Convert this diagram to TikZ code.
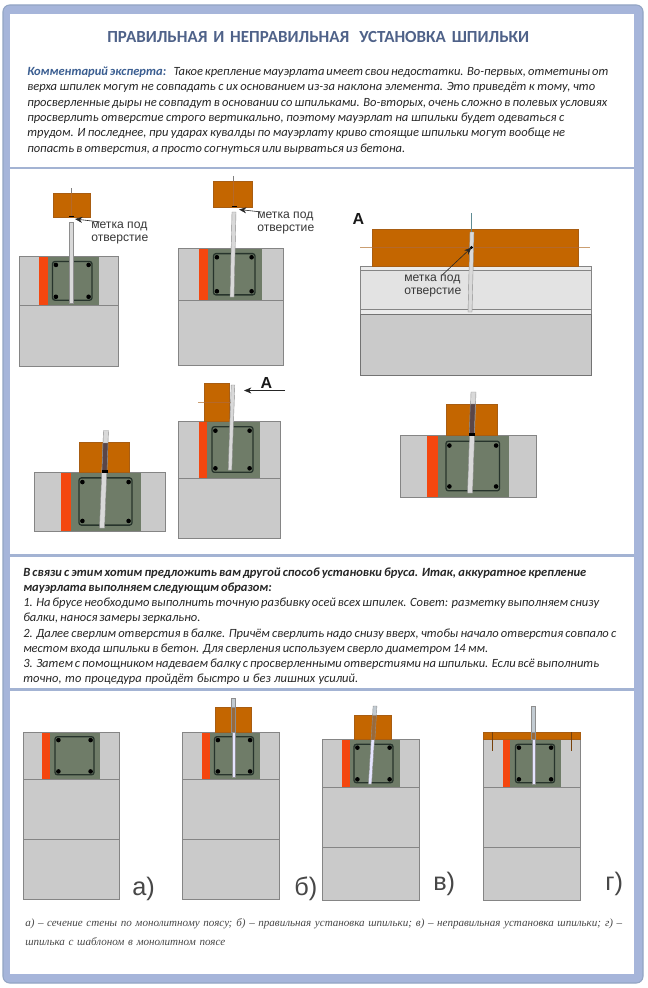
\documentclass[tikz,border=0pt]{standalone}
\usepackage{fontspec}
\setmainfont{Carlito}
\newfontfamily\labfont{Liberation Sans}
\newfontfamily\capfont{Liberation Serif}
\usetikzlibrary{arrows.meta}
\definecolor{bandblue}{HTML}{A6B5DA}
\definecolor{rimblue}{HTML}{93A5C4}
\definecolor{sepblue}{HTML}{A3B3D3}
\definecolor{titleblue}{HTML}{4F6289}
\definecolor{commentblue}{HTML}{3B5E91}
\definecolor{bodyink}{HTML}{262626}
\definecolor{wallgray}{HTML}{CACACA}
\definecolor{edgegray}{HTML}{858585}
\definecolor{brick}{HTML}{F4470F}
\definecolor{concrete}{HTML}{6F7C68}
\definecolor{rebar}{HTML}{27342C}
\definecolor{timber}{HTML}{C46600}
\definecolor{timberedge}{HTML}{A85D12}
\definecolor{timberaxis}{HTML}{B5692A}
\definecolor{studfill}{HTML}{D9D9D9}
\definecolor{studedge}{HTML}{8E8E8E}
\definecolor{studblue}{HTML}{C2CBD2}
\definecolor{studdark}{HTML}{5A4648}
\definecolor{studin}{HTML}{9A6A3A}
\definecolor{axisteal}{HTML}{5F8C94}
\tikzset{
  wallpart/.style={fill=wallgray,draw=edgegray,line width=.5pt},
  brickpart/.style={fill=brick},
  corepart/.style={fill=concrete},
  stirrup/.style={draw=rebar,line width=1pt,rounded corners=1.8pt},
  beampart/.style={fill=timber,draw=timberedge,line width=.4pt},
  axisline/.style={draw=#1,line width=.3pt},
  arr/.style={-{Stealth[length=5.5pt,width=4.5pt]},line width=.45pt,draw=black!85},
  tagtext/.style={font=\labfont\fontsize{9.1}{9.8}\selectfont,text=black!78,inner sep=0pt,align=left},
  bigA/.style={font=\labfont\bfseries\fontsize{12}{12}\selectfont,inner sep=0pt,text=black!90},
  letter/.style={font=\labfont\fontsize{19}{19}\selectfont,inner sep=0pt,text=black!72},
  linetext/.style={inner sep=0pt,anchor=base west,text=bodyink,font=\itshape\fontsize{9.4}{10}\selectfont},
  captext/.style={inner sep=0pt,anchor=base west,text=black!72,font=\capfont\itshape\fontsize{8.3}{10}\selectfont},
}
\newcommand{\wsec}[9]{%
  \pgfmathsetmacro{\hh}{#4-#3}%
  \pgfmathsetmacro{\stT}{#3+.1*\hh}\pgfmathsetmacro{\stB}{#4-.1*\hh}%
  \pgfmathsetmacro{\dT}{#3+.17*\hh}\pgfmathsetmacro{\dB}{#4-.17*\hh}%
  \pgfmathsetmacro{\dL}{#8+3.4}\pgfmathsetmacro{\dR}{#9-3.4}%
  \path[wallpart] (#1,#3) rectangle (#2,#4);
  \path[brickpart] (#5,#3) rectangle (#6,#4);
  \path[corepart] (#6,#3) rectangle (#7,#4);
  \draw[edgegray,line width=.4pt] (#5,#3) -- (#7,#3);
  \draw[edgegray,line width=.4pt] (#5,#4) -- (#7,#4);
  \path[stirrup] (#8,\stT) rectangle (#9,\stB);
  \fill[black] (\dL,\dT) circle (2.3) (\dR,\dT) circle (2.3) (\dL,\dB) circle (2.3) (\dR,\dB) circle (2.3);
}
\newcommand{\lowerpart}[4]{\path[wallpart] (#1,#3) rectangle (#2,#4);}
\newcommand{\rod}[6]{%
  \pgfmathsetmacro{\aL}{#1-#5}\pgfmathsetmacro{\aR}{#1+#5}%
  \pgfmathsetmacro{\bL}{#3-#5}\pgfmathsetmacro{\bR}{#3+#5}%
  \filldraw[fill=#6,draw=studedge,line width=.3pt] (\aL,#2) -- (\aR,#2) -- (\bR,#4) -- (\bL,#4) -- cycle;
}
\newcommand{\tline}[5]{\node[linetext] (#1) at (#2,#3) {\makebox[0.75\dimexpr #4pt\relax][s]{#5}};}
\begin{document}
\begin{tikzpicture}[x=.75pt,y=-.75pt]
\useasboundingbox (0,0) rectangle (647,988);
\fill[white] (0,0) rectangle (647,988);
% frame
\filldraw[fill=bandblue,draw=rimblue,line width=.8pt,rounded corners=5pt] (3,5) rectangle (643,983);
\fill[white] (10,14.5) rectangle (633.5,974);
\foreach \yy in {168,555.5,689.5}{\draw[sepblue,line width=1.6pt] (10,\yy) -- (633.5,\yy);}
% title
\node[inner sep=0pt,anchor=base west,text=titleblue,font=\bfseries\fontsize{12.7}{13}\selectfont] (title) at (107,42.5) {\makebox[0.75\dimexpr 422pt\relax][s]{ПРАВИЛЬНАЯ И НЕПРАВИЛЬНАЯ\hspace{3pt} УСТАНОВКА ШПИЛЬКИ}};
% first text
\tline{a1}{27}{76}{579}{{\bfseries\color{commentblue}Комментарий эксперта:}\hspace{3pt} Такое крепление мауэрлата имеет свои недостатки. Во-первых, отметины от}
\tline{a2}{27}{91}{568}{верха шпилек могут не совпадать с их основанием из-за наклона элемента. Это приведёт к тому, что}
\tline{a3}{27}{107}{580}{просверленные дыры не совпадут в основании со шпильками. Во-вторых, очень сложно в полевых условиях}
\tline{a4}{27}{122}{537}{просверлить отверстие строго вертикально, поэтому мауэрлат на шпильки будет одеваться с}
\tline{a5}{27}{137}{538}{трудом. И последнее, при ударах кувалды по мауэрлату криво стоящие шпильки могут вообще не}
\tline{a6}{27}{152}{378}{попасть в отверстия, а просто согнуться или вырваться из бетона.}
% figure 1
\lowerpart{19}{118}{305}{366}
\wsec{19}{118}{256.7}{305}{39}{47.5}{98.5}{52.5}{92}
\rod{71.5}{222}{71.5}{303}{1.9}{studfill}
\path[beampart] (53,193) rectangle (90,217.5);
\draw[axisline=black!50] (71.5,188) -- (71.5,193);
\draw[axisline=timberaxis] (71.5,193) -- (71.5,217);
\draw[black,line width=1pt] (69,216.7) -- (74,216.7);
\coordinate (mk1) at (75,219);
\node[tagtext,anchor=north west] (m1) at (91,222) {метка под\\отверстие};
\draw[arr] (m1.150) -- (mk1);
% figure 2
\lowerpart{178.5}{283}{300}{365.5}
\wsec{178.5}{283}{248.5}{300}{199}{207.5}{261.5}{213.5}{255}
\rod{234}{212}{232}{297}{2}{studfill}
\path[beampart] (213.5,181) rectangle (252.5,207);
\draw[axisline=black!50] (233,176) -- (233,181);
\draw[axisline=timberaxis] (233,181) -- (233,207);
\draw[black,line width=1pt] (232,206.4) -- (237,206.4);
\coordinate (mk2) at (239,209.5);
\node[tagtext,anchor=north west] (m2) at (257,212) {метка под\\отверстие};
\draw[arr] (m2.155) -- (mk2);
% figure 3
\node[bigA,anchor=center] (lA) at (358.5,218.5) {А};
\path[fill=white!92!black,draw=edgegray,line width=.5pt] (360,266) rectangle (591,314.5);
\path[fill=white!89!black,draw=edgegray,line width=.5pt] (360,270) rectangle (591,309.5);
\path[fill=wallgray,draw=black!55,line width=.7pt] (360,314.5) rectangle (591,375);
\path[beampart] (372,229.5) rectangle (578.5,266);
\draw[axisline=timberedge!60!white] (360,247.5) -- (372,247.5);
\draw[axisline=timberedge!60!white] (578.5,247.5) -- (590,247.5);
\draw[axisline=timberaxis] (372,247.5) -- (578.5,247.5);
\draw[axisline=axisteal] (471.5,213) -- (471.5,232);
\rod{472}{232}{470}{312}{2}{studfill}
\coordinate (mk3) at (471.5,247.5);
\fill[black] (mk3) circle (1.6);
\node[tagtext,anchor=north west] (m3) at (404,275) {метка под\\отверстие};
\draw[arr] (m3.50) -- (mk3);
% figure 4
\wsec{34}{165.5}{472}{531}{60.5}{71}{141}{79}{132}
\path[beampart] (79,442.5) rectangle (129.5,472);
\rod{106}{430.5}{102}{528}{2.5}{studfill}
\rod{105.5}{443}{104.5}{471}{2.5}{studdark}
\fill[black] (102,470) rectangle (108,472.5);
% figure 5
\lowerpart{178.5}{280}{478}{538.5}
\wsec{178.5}{280}{421}{478}{199}{206.5}{259.5}{212}{253}
\path[beampart] (204,383) rectangle (229,421);
\draw[axisline=timberedge!60!white] (198,402) -- (204,402);
\draw[axisline=timberaxis] (204,402) -- (232,402);
\rod{233}{385}{230}{470}{1.8}{studfill}
\node[bigA,anchor=center] (lA2) at (266.5,383) {А};
\coordinate (aE) at (244,390.5);
\coordinate (aS) at (285,390.5);
\draw[arr] (aS) -- (aE);
% figure 6
\wsec{400.5}{536}{435}{497}{427}{438}{509}{446}{499.5}
\path[beampart] (446,404) rectangle (497,435);
\rod{473.5}{392}{470}{493}{2.5}{studfill}
\rod{472.8}{404}{471.8}{434}{2.5}{studdark}
\fill[black] (469,433) rectangle (475,436);
% second text
\tline{b1}{23}{576}{563}{{\bfseries В связи с этим хотим предложить вам другой способ установки бруса. Итак, аккуратное крепление}}
\tline{b2}{23}{591}{245}{{\bfseries мауэрлата выполняем следующим образом:}}
\tline{b3}{23}{606}{576}{1. На брусе необходимо выполнить точную разбивку осей всех шпилек. Совет: разметку выполняем снизу}
\tline{b4}{23}{621}{175}{балки, нанося замеры зеркально.}
\tline{b5}{23}{637}{593}{2. Далее сверлим отверстия в балке. Причём сверлить надо снизу вверх, чтобы начало отверстия совпало с}
\tline{b6}{23}{652}{465}{местом входа шпильки в бетон. Для сверления используем сверло диаметром 14 мм.}
\tline{b7}{23}{667}{576}{3. Затем с помощником надеваем балку с просверленными отверстиями на шпильки. Если всё выполнить}
\tline{b8}{23}{682}{335}{точно, то процедура пройдёт быстро и без лишних усилий.}
% figure а
\lowerpart{23.5}{119.5}{779.5}{839.5}
\lowerpart{23.5}{119.5}{839.5}{899}
\wsec{23.5}{119.5}{732}{779.5}{42}{50}{100}{55}{94}
\node[letter,anchor=base west] (la) at (132,895) {а)};
% figure б
\lowerpart{182.5}{279}{779.5}{839.5}
\lowerpart{182.5}{279}{839.5}{899}
\wsec{182.5}{279}{732}{779.5}{201.5}{209.5}{259.5}{214.5}{253.5}
\rod{233.5}{732}{233.5}{777}{1.5}{white!90!blue}
\path[beampart] (215,707.5) rectangle (251,732);
\rod{233.5}{698}{233.5}{707.5}{1.9}{studblue}
\rod{233.5}{707.5}{233.5}{732}{1.9}{studin}
\node[letter,anchor=base west] (lb) at (294,895) {б)};
% figure в
\lowerpart{322}{419}{787.5}{847.5}
\lowerpart{322}{419}{847.5}{900}
\wsec{322}{419}{739.5}{787.5}{341.5}{349.5}{399.5}{354}{393}
\rod{372.8}{739.5}{370}{784}{1.6}{white!90!blue}
\path[beampart] (354.5,715.5) rectangle (391.5,739.5);
\rod{375}{706}{374.5}{715.5}{1.9}{studblue}
\rod{374.5}{715.5}{373}{739.5}{1.9}{studin}
\node[letter,anchor=base west] (lv) at (433,890) {в)};
% figure г
\lowerpart{483.5}{580}{787.5}{847.5}
\lowerpart{483.5}{580}{847.5}{900}
\wsec{483.5}{580}{739.5}{787.5}{502.5}{510}{561}{515.5}{554.5}
\rod{533.5}{739.5}{533.5}{784}{1.6}{white!90!blue}
\path[beampart] (483,732) rectangle (580,739.5);
\rod{533.5}{706}{533.5}{732}{1.9}{studblue}
\rod{533.5}{732}{533.5}{739.5}{1.9}{studin}
\draw[timberedge!70!black,line width=.7pt] (492,732) -- (492,751);
\draw[timberedge!70!black,line width=.7pt] (571.5,732) -- (571.5,751);
\node[letter,anchor=base west] (lg) at (605,890) {г)};
% caption
\node[captext] (c1) at (25,926) {\makebox[0.75\dimexpr 597pt\relax][s]{а) – сечение стены по монолитному поясу; б) – правильная установка шпильки; в) – неправильная установка шпильки; г) –}};
\node[captext] (c2) at (25,945) {\makebox[0.75\dimexpr 200pt\relax][s]{шпилька с шаблоном в монолитном поясе}};
\end{tikzpicture}
\end{document}
